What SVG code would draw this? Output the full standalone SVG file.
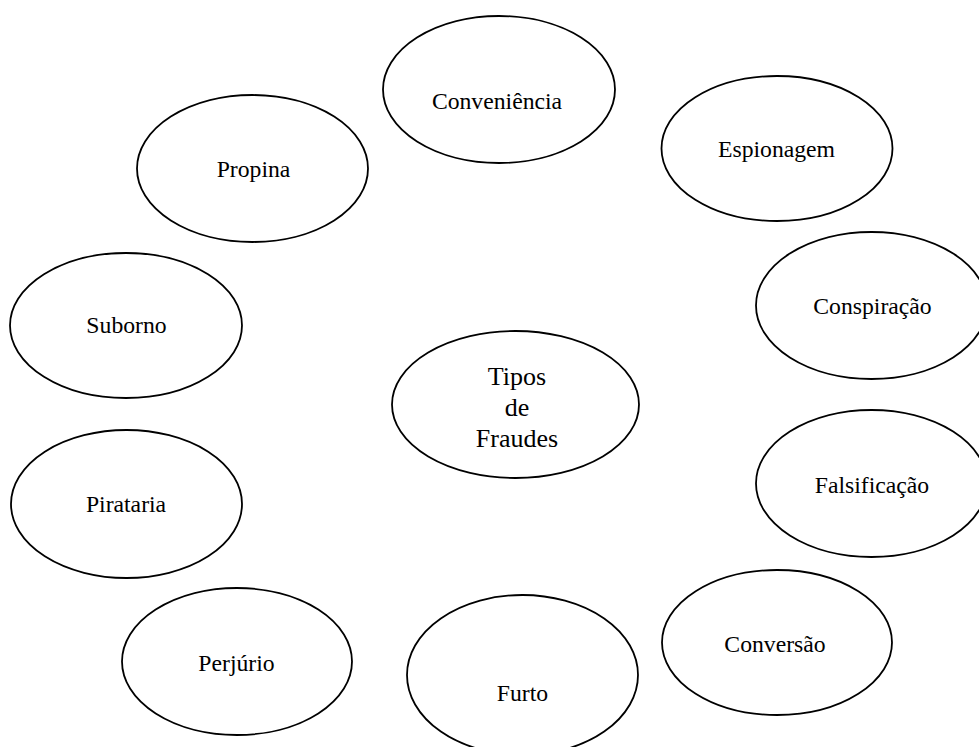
<svg xmlns="http://www.w3.org/2000/svg" width="979" height="747" viewBox="0 0 979 747">
<style>
.n ellipse{fill:#fff;stroke:#000;stroke-width:1.8}
.n text{font-family:"Liberation Serif","Times New Roman",serif;font-size:23.7px;fill:#000;text-anchor:middle}
#tipos text{font-size:26px}
</style>
<rect width="979" height="747" fill="#fff"/>
<g id="connectors"/>
<g id="conveniencia" class="n"><ellipse cx="499" cy="89.5" rx="116" ry="73.5"/><text x="497" y="109">Conveniência</text></g>
<g id="espionagem" class="n"><ellipse cx="777" cy="148.5" rx="115.5" ry="72.5"/><text x="776.5" y="157">Espionagem</text></g>
<g id="propina" class="n"><ellipse cx="252.5" cy="168.5" rx="115.5" ry="73.5"/><text x="253.5" y="177">Propina</text></g>
<g id="suborno" class="n"><ellipse cx="126" cy="325.5" rx="116" ry="72.5"/><text x="126.5" y="333">Suborno</text></g>
<g id="conspiracao" class="n"><ellipse cx="871.5" cy="305.5" rx="115.5" ry="73.5"/><text x="872.5" y="314">Conspiração</text></g>
<g id="tipos" class="n"><ellipse cx="515.5" cy="404.5" rx="123.5" ry="73.5"/><text x="517" y="385">Tipos</text><text x="517" y="416">de</text><text x="517" y="447">Fraudes</text></g>
<g id="pirataria" class="n"><ellipse cx="126.5" cy="504" rx="115.5" ry="74"/><text x="126" y="512">Pirataria</text></g>
<g id="falsificacao" class="n"><ellipse cx="871.5" cy="483.5" rx="115.5" ry="73.5"/><text x="872" y="493">Falsificação</text></g>
<g id="conversao" class="n"><ellipse cx="777" cy="642.5" rx="115" ry="72.5"/><text x="775" y="652">Conversão</text></g>
<g id="perjurio" class="n"><ellipse cx="237" cy="661.5" rx="115" ry="73.5"/><text x="236.5" y="671">Perjúrio</text></g>
<g id="furto" class="n"><ellipse cx="522.5" cy="675" rx="115.5" ry="80"/><text x="522.5" y="701">Furto</text></g>
</svg>
